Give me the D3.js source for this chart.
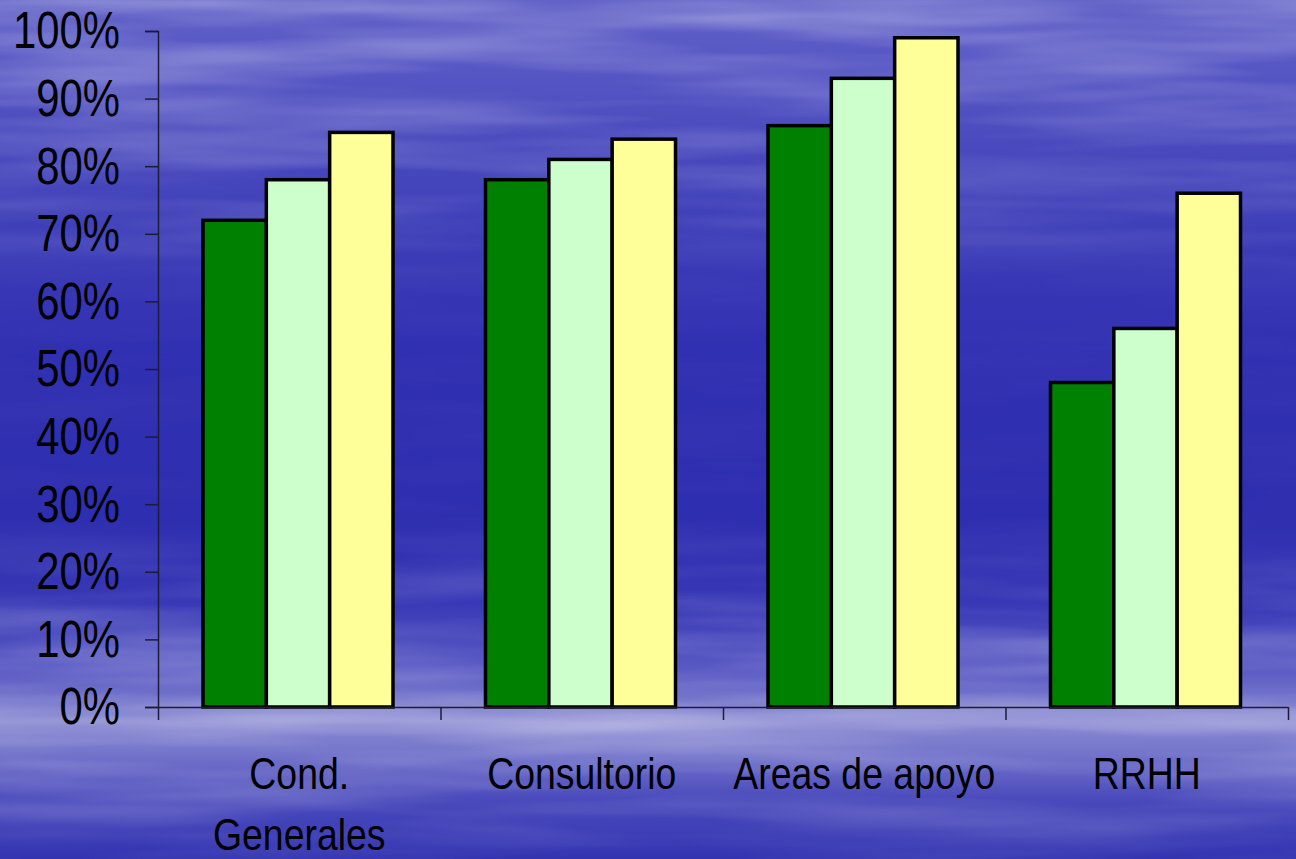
<!DOCTYPE html>
<html>
<head>
<meta charset="utf-8">
<script src="https://cdn.jsdelivr.net/npm/d3@7"></script>
<style>
  html, body { margin: 0; padding: 0; background: #3535b5; }
  svg { display: block; }
  text { font-family: "Liberation Sans", Arial, sans-serif; fill: #000; }
</style>
</head>
<body>
<svg id="chart" width="1296" height="859"></svg>
<script>
// ---- data ----
const categories = ["Cond.\nGenerales", "Consultorio", "Areas de apoyo", "RRHH"];
const seriesNames = ["Serie 1", "Serie 2", "Serie 3"];
const serie1 = [0.72, 0.78, 0.86, 0.48];
const serie2 = [0.78, 0.81, 0.93, 0.56];
const serie3 = [0.85, 0.84, 0.99, 0.76];
const yTicks = [0, 0.1, 0.2, 0.3, 0.4, 0.5, 0.6, 0.7, 0.8, 0.9, 1.0];
const colors = ["#008000", "#ccffcc", "#ffff99"];

const seriesValues = [serie1, serie2, serie3];
const NARROW = 0.82;     // emulate a narrow sans face (y labels)
const NARROW_CAT = 0.85; // category labels

const W = 1296, H = 859;
const svg = d3.select("#chart");
const defs = svg.append("defs");

// ---- background ----
const bg = defs.append("linearGradient").attr("id", "bgGrad")
  .attr("x1", 0).attr("y1", 0).attr("x2", 0).attr("y2", 1);
[[0, "#6262c8"], [0.08, "#5656c4"], [0.2, "#4646bc"], [0.4, "#3030b2"], [0.6, "#2e2eb0"],
 [0.7, "#3838b6"], [0.78, "#5a5ac4"], [0.84, "#8a8ad2"], [0.88, "#7272ca"], [0.93, "#4a4abc"], [1, "#3434b2"]]
  .forEach(([o, c]) => bg.append("stop").attr("offset", o).attr("stop-color", c));

const f = defs.append("filter").attr("id", "clouds")
  .attr("x", 0).attr("y", 0).attr("width", 1).attr("height", 1);
f.append("feTurbulence").attr("type", "fractalNoise")
  .attr("baseFrequency", "0.0025 0.03").attr("numOctaves", 3).attr("seed", 7).attr("result", "n");
f.append("feColorMatrix").attr("type", "matrix")
  .attr("values", "0 0 0 0 1  0 0 0 0 1  0 0 0 0 1  1.6 0 0 0 -0.58");

const mg = defs.append("linearGradient").attr("id", "maskGrad")
  .attr("x1", 0).attr("y1", 0).attr("x2", 0).attr("y2", 1);
[[0, 0.9], [0.2, 0.5], [0.33, 0.08], [0.6, 0.05], [0.72, 0.45], [0.85, 0.8], [0.95, 0.4], [1, 0.2]]
  .forEach(([o, a]) => mg.append("stop").attr("offset", o).attr("stop-color", "#fff").attr("stop-opacity", a));
defs.append("mask").attr("id", "cloudMask")
  .append("rect").attr("width", W).attr("height", H).attr("fill", "url(#maskGrad)");

svg.append("rect").attr("width", W).attr("height", H).attr("fill", "url(#bgGrad)");
svg.append("rect").attr("width", W).attr("height", H).attr("fill", "#fff")
  .attr("filter", "url(#clouds)").attr("mask", "url(#cloudMask)").attr("opacity", 0.5);

// ---- scales ----
const x0 = 158, x1 = 1288, yTop = 31, yBot = 707;
const x = d3.scaleBand().domain(categories).range([x0, x1]).paddingInner(0).paddingOuter(0);
const xs = d3.scaleBand().domain(seriesNames).range([45, 45 + 190]);
const y = d3.scaleLinear().domain([0, 1]).range([yBot, yTop]);
const xEdges = d3.scaleLinear().domain([0, categories.length]).range([x0, x1]);

// ---- bars ----
const groups = svg.append("g").selectAll("g").data(categories).join("g")
  .attr("transform", d => `translate(${x(d)},0)`);
groups.selectAll("rect")
  .data((d, i) => seriesNames.map((s, j) => ({ s, v: seriesValues[j][i], j })))
  .join("rect")
  .attr("x", d => xs(d.s))
  .attr("width", xs.bandwidth())
  .attr("y", d => y(d.v))
  .attr("height", d => y(0) - y(d.v))
  .attr("fill", d => colors[d.j])
  .attr("stroke", "#000")
  .attr("stroke-width", 3.5);

// ---- axes ----
const yAxis = svg.append("g").attr("transform", `translate(${x0},0)`)
  .call(d3.axisLeft(y).tickValues(yTicks).tickSize(13).tickPadding(25)
    .tickFormat(d => Math.round(d * 100) + "%"));
yAxis.selectAll("text")
  .style("font-size", "51px")
  .attr("x", -38 / NARROW)
  .attr("dy", "0.33em")
  .attr("transform", `scale(${NARROW},1)`);
yAxis.selectAll("line, path").attr("stroke", "#1c1c3a").attr("stroke-width", 1.5);

const xAxis = svg.append("g").attr("transform", `translate(0,${yBot})`)
  .call(d3.axisBottom(xEdges).tickValues(d3.range(categories.length + 1)).tickSize(13).tickSizeOuter(0).tickFormat(""));
xAxis.selectAll("line, path").attr("stroke", "#1c1c3a").attr("stroke-width", 1.5);

// ---- category labels ----
const lbl = svg.append("g").selectAll("g").data(categories).join("g")
  .attr("transform", d => `translate(${x(d) + x.bandwidth() / 2},789) scale(${NARROW_CAT},1)`)
  .append("text")
  .attr("text-anchor", "middle")
  .attr("x", 0).attr("y", 0)
  .style("font-size", "44px");
lbl.selectAll("tspan").data(d => d.split("\n")).join("tspan")
  .attr("x", 0)
  .attr("dy", (d, i) => i === 0 ? 0 : 61)
  .text(d => d);
</script>
</body>
</html>
